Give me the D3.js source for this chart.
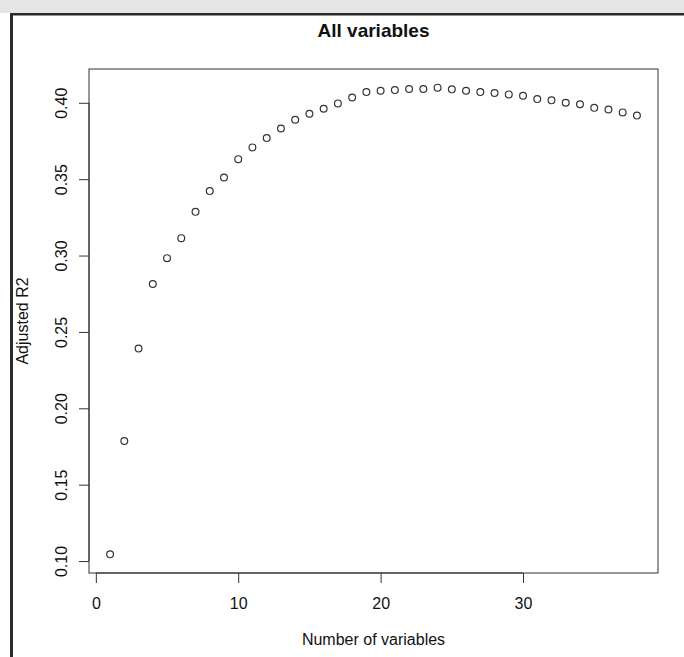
<!DOCTYPE html>
<html>
<head>
<meta charset="utf-8">
<script src="https://cdn.jsdelivr.net/npm/d3@7"></script>
<style>
  html, body { margin: 0; padding: 0; background: #fff; }
  svg { display: block; font-family: "Liberation Sans", Arial, sans-serif; }
</style>
</head>
<body>
<svg id="chart" width="684" height="657"></svg>
<script>
// ---- data ----
const numVars = d3.range(1, 39);
const adjR2 = [
  0.1044, 0.1786, 0.2391, 0.2814, 0.2983, 0.3114, 0.3286, 0.3422, 0.3511, 0.3631,
  0.3708, 0.3769, 0.3832, 0.3889, 0.3928, 0.3961, 0.3996, 0.4035, 0.4070, 0.4079,
  0.4083, 0.4090, 0.4090, 0.4099, 0.4088, 0.4079, 0.4070, 0.4064, 0.4055, 0.4046,
  0.4024, 0.4016, 0.4000, 0.3990, 0.3967, 0.3956, 0.3937, 0.3916
];
const xTicks = [0, 10, 20, 30];
const yTicks = [0.10, 0.15, 0.20, 0.25, 0.30, 0.35, 0.40];
const titleText = "All variables";
const xLabel = "Number of variables";
const yLabel = "Adjusted R2";

// ---- layout ----
const W = 684, H = 657;
const box = { left: 89, right: 658, top: 69, bottom: 573 };
const ink = "#333";
const fs = 16;

const svg = d3.select("#chart");

// window chrome (top band and frame)
svg.append("rect").attr("x", 0).attr("y", 0).attr("width", W).attr("height", 13).attr("fill", "#e5e5e5");
svg.append("rect").attr("x", 10).attr("y", 13).attr("width", W - 10).attr("height", 2.5).attr("fill", "#2b2b2b");
svg.append("rect").attr("x", 10).attr("y", 13).attr("width", 3).attr("height", H - 13).attr("fill", "#2b2b2b");

// R-style 4% extended domains
const xExt = d3.extent(numVars), yExt = d3.extent(adjR2);
const xPad = (xExt[1] - xExt[0]) * 0.04, yPad = (yExt[1] - yExt[0]) * 0.04;
const x = d3.scaleLinear().domain([xExt[0] - xPad, xExt[1] + xPad]).range([box.left, box.right]);
const y = d3.scaleLinear().domain([yExt[0] - yPad, yExt[1] + yPad]).range([box.bottom, box.top]);

// plot box
svg.append("rect")
  .attr("x", box.left).attr("y", box.top)
  .attr("width", box.right - box.left).attr("height", box.bottom - box.top)
  .attr("fill", "none").attr("stroke", ink).attr("stroke-width", 1);

// x axis
const gx = svg.append("g").attr("transform", `translate(0,${box.bottom})`)
  .call(d3.axisBottom(x).tickValues(xTicks).tickFormat(d3.format("d")).tickSize(10).tickPadding(14.5));
gx.select(".domain").remove();
gx.append("line").attr("x1", x(xTicks[0])).attr("x2", x(xTicks[xTicks.length - 1]))
  .attr("y1", 0).attr("y2", 0).attr("stroke", ink);
gx.selectAll(".tick line").attr("stroke", ink);
gx.selectAll(".tick text").attr("fill", "#111").style("font-size", fs + "px")
  .style("font-family", "Liberation Sans, Arial, sans-serif");

// y axis
const gy = svg.append("g").attr("transform", `translate(${box.left},0)`)
  .call(d3.axisLeft(y).tickValues(yTicks).tickFormat(d3.format(".2f")).tickSize(10));
gy.select(".domain").remove();
gy.append("line").attr("y1", y(yTicks[0])).attr("y2", y(yTicks[yTicks.length - 1]))
  .attr("x1", 0).attr("x2", 0).attr("stroke", ink);
gy.selectAll(".tick line").attr("stroke", ink);
gy.selectAll(".tick text")
  .attr("transform", "rotate(-90)")
  .attr("x", 0).attr("y", -22).attr("dy", null)
  .attr("text-anchor", "middle")
  .attr("fill", "#111").style("font-size", fs + "px")
  .style("font-family", "Liberation Sans, Arial, sans-serif");

// points
svg.append("g").selectAll("circle")
  .data(numVars.map((n, i) => ({ n, v: adjR2[i] })))
  .join("circle")
  .attr("cx", d => x(d.n)).attr("cy", d => y(d.v)).attr("r", 3.4)
  .attr("fill", "none").attr("stroke", ink).attr("stroke-width", 1.2);

// titles
const cx = (box.left + box.right) / 2;
svg.append("text").attr("x", cx).attr("y", 37).attr("text-anchor", "middle")
  .style("font-size", "19px").style("font-weight", "bold").attr("fill", "#111").text(titleText);
svg.append("text").attr("x", cx).attr("y", 645).attr("text-anchor", "middle")
  .style("font-size", fs + "px").attr("fill", "#111").text(xLabel);
svg.append("text").attr("transform", `translate(28,${(box.top + box.bottom) / 2}) rotate(-90)`)
  .attr("text-anchor", "middle").style("font-size", fs + "px").attr("fill", "#111").text(yLabel);
</script>
</body>
</html>
